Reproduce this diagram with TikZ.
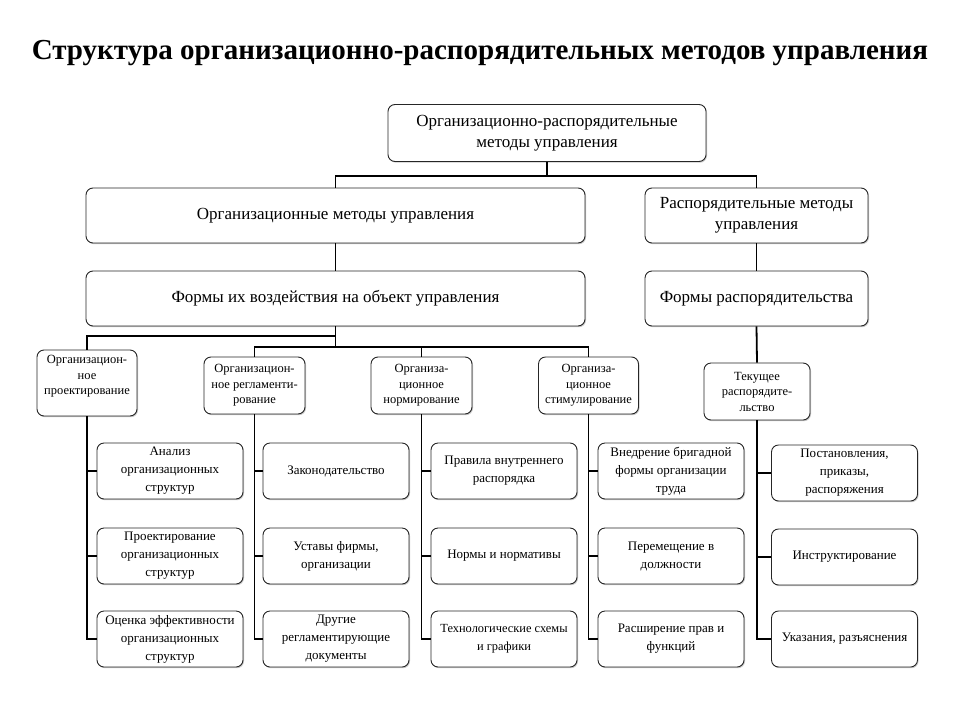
\documentclass[tikz,border=0pt]{standalone}
\usepackage{fontspec}
\setmainfont{Liberation Serif}
\usetikzlibrary{shadows}
\begin{document}
\begin{tikzpicture}[x=1pt,y=-1pt,
  box/.style={draw=black!85, line width=0.9pt, rounded corners=7pt, fill=white,
    align=center, inner sep=1pt,
    drop shadow={shadow xshift=1pt, shadow yshift=-1.2pt, opacity=0.35, fill=black!60}},
  bigbox/.style={box, font=\fontsize{17}{20.5}\selectfont, minimum height=55pt},
  midbox/.style={box, font=\fontsize{12.5}{15.5}\selectfont, minimum height=57pt},
  leaf/.style={box, font=\fontsize{13}{18}\selectfont, minimum width=146pt, minimum height=56pt},
  ln/.style={line width=1.1pt},
  tk/.style={line width=1.8pt}]
\useasboundingbox (0,0) rectangle (960,720);
\fill[white] (0,0) rectangle (960,720);
\node[font=\bfseries\fontsize{29}{32}\selectfont] (title) at (480,53) {Структура организационно-распорядительных методов управления};

\node[bigbox, font=\fontsize{17}{21.5}\selectfont, minimum width=318pt, minimum height=57pt] (top) at (547,133) {Организационно-распорядительные\\методы управления};
\node[bigbox, minimum width=499pt] (orgm) at (335.5,215.5) {Организационные методы управления};
\node[bigbox, minimum width=223pt] (rasm) at (756.5,215.5) {Распорядительные методы\\управления};
\node[bigbox, minimum width=499pt] (forms) at (335.5,298.5) {Формы их воздействия на объект управления};
\node[bigbox, minimum width=223pt] (rforms) at (756.5,298.5) {Формы распорядительства};

\node[midbox, minimum width=100pt, minimum height=66pt] (op) at (87,383) {Организацион-\\ное\\проектирование\\\mbox{}};
\node[midbox, minimum width=101pt] (or) at (254.5,385.5) {Организацион-\\ное регламенти-\\рование};
\node[midbox, minimum width=101pt] (on) at (421.5,385.5) {Организа-\\ционное\\нормирование};
\node[midbox, minimum width=100pt] (os) at (588.5,385.5) {Организа-\\ционное\\стимулирование};
\node[midbox, minimum width=106pt] (tr) at (757,391.5) {Текущее\\распорядите-\\льство};

% leaves
\node[leaf] (a1) at (170,471) {Анализ\\организационных\\структур};
\node[leaf] (a2) at (170,556) {Проектирование\\организационных\\структур};
\node[leaf] (a3) at (170,639) {Оценка эффективности\\организационных\\структур};
\node[leaf] (b1) at (336,471) {Законодательство};
\node[leaf] (b2) at (336,556) {Уставы фирмы,\\организации};
\node[leaf] (b3) at (336,639) {Другие\\регламентирующие\\документы};
\node[leaf] (c1) at (504,471) {Правила внутреннего\\распорядка};
\node[leaf] (c2) at (504,556) {Нормы и нормативы};
\node[leaf, font=\fontsize{12.4}{18}\selectfont] (c3) at (504,639) {Технологические схемы\\и графики};
\node[leaf] (d1) at (671,471) {Внедрение бригадной\\формы организации\\труда};
\node[leaf] (d2) at (671,556) {Перемещение в\\должности};
\node[leaf] (d3) at (671,639) {Расширение прав и\\функций};
\node[leaf] (e1) at (844.5,473) {Постановления,\\приказы,\\распоряжения};
\node[leaf] (e2) at (844.5,557) {Инструктирование};
\node[leaf] (e3) at (844.5,639) {Указания, разъяснения};

% connectors top
\coordinate (j1) at (547,176);
\draw[ln] (top.south) -- (j1);
\draw[ln] (orgm.north) |- (j1) -| (rasm.north);
\draw[tk] (orgm.south) -- (forms.north);
\draw[tk] (rasm.south) -- (rforms.north);
\draw[tk] (rforms.south) -- (tr.north);

\coordinate (j2) at (335.5,336);
\coordinate (j3) at (335.5,347);
\draw[tk] (forms.south) -- (j3);
\draw[ln] (j2) -| (op.north);
\draw[tk] (or.north) |- (j3) -| (os.north);
\draw[ln] (on.north) -- (on.north |- j3);

% leaf columns
\draw[ln] (op.south) -- (op.south |- a3.west) -- (a3.west);
\draw[tk] (op.south |- a1.west) -- (a1.west);
\draw[ln] (op.south |- a2.west) -- (a2.west);
\draw[ln] (or.south) -- (or.south |- b3.west) -- (b3.west);
\draw[tk] (or.south |- b1.west) -- (b1.west);
\draw[ln] (or.south |- b2.west) -- (b2.west);
\draw[ln] (on.south) -- (on.south |- c3.west) -- (c3.west);
\draw[tk] (on.south |- c1.west) -- (c1.west);
\draw[ln] (on.south |- c2.west) -- (c2.west);
\draw[ln] (os.south) -- (os.south |- d3.west) -- (d3.west);
\draw[tk] (os.south |- d1.west) -- (d1.west);
\draw[ln] (os.south |- d2.west) -- (d2.west);
\draw[tk] (tr.south) -- (tr.south |- e3.west) -- (e3.west);
\draw[tk] (tr.south |- e1.west) -- (e1.west);
\draw[ln] (tr.south |- e2.west) -- (e2.west);
\end{tikzpicture}
\end{document}
